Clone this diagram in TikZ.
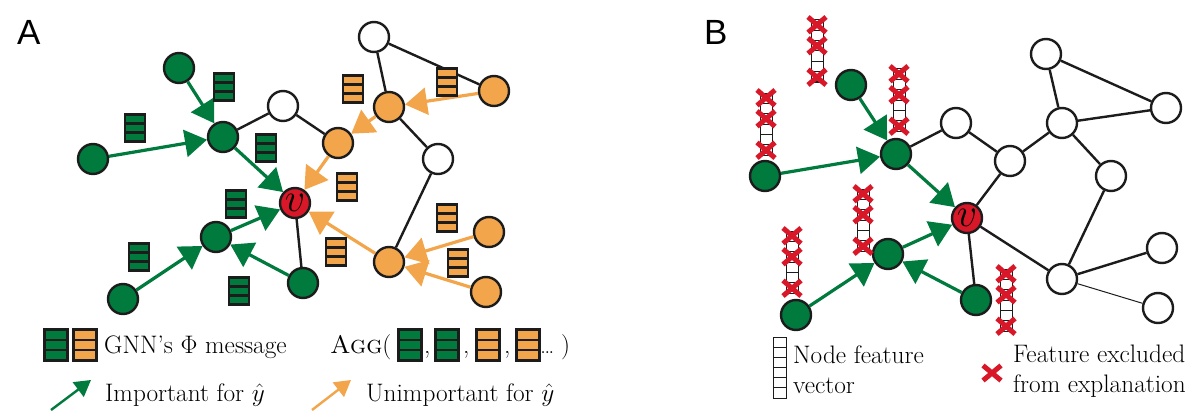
\documentclass[tikz,border=0pt]{standalone}
\usepackage{fix-cm}
\usepackage{fontspec}
\newfontfamily\panelfont{Liberation Sans}
\usepackage{amsmath}
\usetikzlibrary{arrows.meta,calc,shapes.misc}

\definecolor{gnngreen}{RGB}{0,122,61}
\definecolor{gnnorange}{RGB}{243,165,75}
\definecolor{gnnred}{RGB}{216,24,40}
\definecolor{ink}{RGB}{28,28,28}

\begin{document}
\begin{tikzpicture}[
  x=1pt, y=-1pt,
  font=\fontsize{25.3}{30}\selectfont,
  vtx/.style={circle, draw=ink, line width=2.4pt, minimum size=30pt, inner sep=0pt, fill=#1},
  vtx/.default=white,
  tgt/.style={vtx=gnnred, font=\fontsize{40}{40}\selectfont},
  edge/.style={ink, line width=2.4pt},
  imp/.style={-{Triangle[length=22pt,width=27pt]}, line width=3.2pt, gnngreen},
  unimp/.style={imp, gnnorange},
  legimp/.style={-{Triangle[length=16pt,width=18pt]}, line width=2.4pt, gnngreen},
  legunimp/.style={legimp, gnnorange},
  msg/.style={draw=ink, fill=#1, line width=2.2pt, minimum width=20pt, minimum height=27pt, inner sep=0pt,
    path picture={
      \draw[ink, line width=2.2pt]
        ($(path picture bounding box.north west)!1/3!(path picture bounding box.south west)$) --
        ($(path picture bounding box.north east)!1/3!(path picture bounding box.south east)$)
        ($(path picture bounding box.north west)!2/3!(path picture bounding box.south west)$) --
        ($(path picture bounding box.north east)!2/3!(path picture bounding box.south east)$);}},
  legmsg/.style={msg=#1, minimum width=23pt, minimum height=31pt},
  fvec/.style={draw=ink, fill=white, line width=1pt, minimum width=12pt, minimum height=62pt, inner sep=0pt,
    path picture={
      \foreach \k in {1,...,5}
        \draw[ink, line width=1pt]
          ($(path picture bounding box.north west)!\k/6!(path picture bounding box.south west)$) --
          ($(path picture bounding box.north east)!\k/6!(path picture bounding box.south east)$);}},
  xmark/.style={cross out, draw=gnnred, line width=5pt, minimum width=13pt, minimum height=10.5pt, inner sep=0pt},
  txt/.style={anchor=base west, inner sep=0pt},
  panel/.style={anchor=base west, inner sep=0pt, font=\panelfont\fontsize{35}{35}\selectfont}
]
  \useasboundingbox (0,0) rectangle (1194,412);

  % ---------- panel A ----------
  \node[panel] (labA) at (17,45) {A};

  \node[vtx=gnngreen] (ag1) at (179,68) {};
  \node[vtx=gnngreen] (ag2) at (223,137) {};
  \node[vtx=gnngreen] (ag3) at (93,159) {};
  \node[vtx=gnngreen] (ag4) at (216,237) {};
  \node[vtx=gnngreen] (ag5) at (123,299) {};
  \node[vtx=gnngreen] (ag6) at (303,283) {};
  \node[vtx] (aw1) at (283,106) {};
  \node[vtx] (aw2) at (374,37) {};
  \node[vtx] (aw3) at (438,159) {};
  \node[vtx=gnnorange] (ao1) at (494,91) {};
  \node[vtx=gnnorange] (ao2) at (389,107) {};
  \node[vtx=gnnorange] (ao3) at (338,143) {};
  \node[vtx=gnnorange] (ao4) at (389,262) {};
  \node[vtx=gnnorange] (ao5) at (489,232) {};
  \node[vtx=gnnorange] (ao6) at (486,292) {};
  \node[tgt] (av) at (295,203) {$v$};

  \draw[edge] (aw1) -- (ag2);
  \draw[edge] (aw1) -- (ao3);
  \draw[edge] (aw2) -- (ao2);
  \draw[edge] (aw2) -- (ao1);
  \draw[edge] (ao2) -- (aw3);
  \draw[edge] (aw3) -- (ao4);
  \draw[edge] (av) -- (ag6);

  \draw[imp] (ag1) -- (ag2);
  \draw[imp] (ag3) -- (ag2);
  \draw[imp] (ag2) -- (av);
  \draw[imp] (ag4) -- (av);
  \draw[imp] (ag5) -- (ag4);
  \draw[imp] (ag6) -- (ag4);
  \draw[unimp] (ao1) -- (ao2);
  \draw[unimp] (ao2) -- (ao3);
  \draw[unimp] (ao3) -- (av);
  \draw[unimp] (ao4) -- (av);
  \draw[unimp] (ao5) -- (ao4);
  \draw[unimp] (ao6) -- (ao4);

  \node[msg=gnngreen] (am1) at (224,87) {};
  \node[msg=gnngreen] (am2) at (135,128) {};
  \node[msg=gnngreen] (am3) at (266,148) {};
  \node[msg=gnngreen] (am4) at (236,204) {};
  \node[msg=gnngreen] (am5) at (139,257) {};
  \node[msg=gnngreen] (am6) at (239,291) {};
  \node[msg=gnnorange] (an1) at (353,89) {};
  \node[msg=gnnorange] (an2) at (447,82) {};
  \node[msg=gnnorange] (an3) at (347,187) {};
  \node[msg=gnnorange] (an4) at (447,218) {};
  \node[msg=gnnorange] (an5) at (336,252) {};
  \node[msg=gnnorange] (an6) at (458,263) {};

  % legend A
  \node[legmsg=gnngreen] (lmg) at (56,345) {};
  \node[legmsg=gnnorange] (lmo) at (85,345) {};
  \node[txt] (lphi) at (104,353) {GNN's $\Phi$ message};
  \node[txt] (lagg) at (330,353) {\textsc{Agg}(};
  \node[legmsg=gnngreen] (lagg1) at (410,345) {};
  \node[txt] (lc1) at (424,353) {,};
  \node[legmsg=gnngreen] (lagg2) at (447,345) {};
  \node[txt] (lc2) at (463,353) {,};
  \node[legmsg=gnnorange] (lagg3) at (488,345) {};
  \node[txt] (lc3) at (504,353) {,};
  \node[legmsg=gnnorange] (lagg4) at (528,345) {};
  \node[txt, font=\fontsize{13}{13}\selectfont\bfseries] (ldots) at (541,353) {...};
  \node[txt] (lclose) at (561,353) {)};

  \coordinate (limp0) at (51,410);
  \coordinate (limp1) at (91,380);
  \draw[legimp] (limp0) -- (limp1);
  \node[txt] (limp) at (105,401) {Important for $\hat{y}$};
  \coordinate (lunimp0) at (312,410);
  \coordinate (lunimp1) at (351,380);
  \draw[legunimp] (lunimp0) -- (lunimp1);
  \node[txt] (lunimp) at (366,401) {Unimportant for $\hat{y}$};

  % ---------- panel B ----------
  \node[panel] (labB) at (704,45) {B};

  \node[vtx=gnngreen] (bg1) at (851,85) {};
  \node[vtx=gnngreen] (bg2) at (896,154) {};
  \node[vtx=gnngreen] (bg3) at (765,176) {};
  \node[vtx=gnngreen] (bg4) at (888,254) {};
  \node[vtx=gnngreen] (bg5) at (796,315) {};
  \node[vtx=gnngreen] (bg6) at (976,300) {};
  \node[vtx] (bw1) at (956,123) {};
  \node[vtx] (bw2) at (1046,54) {};
  \node[vtx] (bw3) at (1166,108) {};
  \node[vtx] (bw4) at (1062,123) {};
  \node[vtx] (bw5) at (1010,161) {};
  \node[vtx] (bw6) at (1111,176) {};
  \node[vtx] (bw7) at (1062,279) {};
  \node[vtx] (bw8) at (1162,248) {};
  \node[vtx] (bw9) at (1158,308) {};
  \node[tgt] (bv) at (967,218) {$v$};

  \draw[edge] (bg2) -- (bw1);
  \draw[edge] (bw1) -- (bw5);
  \draw[edge] (bw5) -- (bv);
  \draw[edge] (bw5) -- (bw4);
  \draw[edge] (bw4) -- (bw2);
  \draw[edge] (bw2) -- (bw3);
  \draw[edge] (bw4) -- (bw3);
  \draw[edge] (bw4) -- (bw6);
  \draw[edge] (bw6) -- (bw7);
  \draw[edge] (bv) -- (bw7);
  \draw[edge] (bv) -- (bg6);
  \draw[edge] (bw7) -- (bw8);
  \draw[ink, line width=1pt] (bw7) -- (bw9);

  \draw[imp] (bg1) -- (bg2);
  \draw[imp] (bg3) -- (bg2);
  \draw[imp] (bg2) -- (bv);
  \draw[imp] (bg4) -- (bv);
  \draw[imp] (bg5) -- (bg4);
  \draw[imp] (bg6) -- (bg4);

  \node[fvec] (bf1) at (817,51) {};
  \node[fvec] (bf2) at (766,124) {};
  \node[fvec] (bf3) at (899,100) {};
  \node[fvec] (bf4) at (863,220) {};
  \node[fvec] (bf5) at (792,262) {};
  \node[fvec] (bf6) at (1006,300) {};
  \foreach \f in {bf1,bf2,bf3,bf4,bf5,bf6}
    \foreach \k in {1,3,6}
      \node[xmark] at ($(\f.north)!{(\k-0.5)/6}!(\f.south)$) {};

  % legend B
  \node[fvec, minimum width=13pt, minimum height=61pt] (lvec) at (779.5,367.5) {};
  \node[anchor=north west, inner sep=0pt, align=left] (lvectext) at (793,346) {Node feature\\vector};
  \node[xmark, minimum width=13pt, minimum height=10pt] (lx) at (992,373) {};
  \node[anchor=north west, inner sep=0pt, align=left] (lxtext) at (1013,345) {Feature excluded\\from explanation};
\end{tikzpicture}
\end{document}
